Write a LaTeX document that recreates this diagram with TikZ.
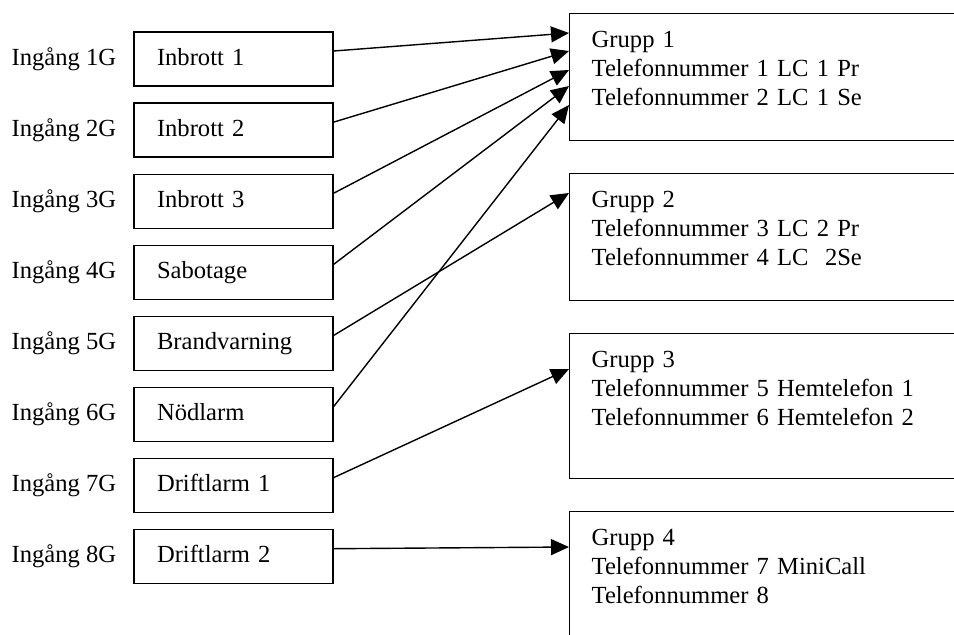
\documentclass[tikz,border=0pt]{standalone}
\usepackage{fontspec}
\setmainfont{Liberation Serif}
\usetikzlibrary{positioning,arrows.meta}

\tikzset{
  inbox/.style={draw, line width=0.7pt, minimum height=27pt, text width=76.5pt,
    inner xsep=11.5pt, align=left, text height=9pt, text depth=3pt,
    font=\fontsize{12.3}{14.5}\selectfont},
  inlab/.style={text height=9pt, text depth=3pt, font=\fontsize{12.3}{14.5}\selectfont},
  grpbox/.style={draw, line width=0.7pt, anchor=north west, text width=178pt,
    inner xsep=11pt, inner ysep=0pt, align=left, text height=17pt, text depth=46.5pt,
    font=\fontsize{12.3}{14.5}\selectfont},
  conn/.style={line width=0.7pt, -{Triangle[length=9pt,width=8pt]}}
}

\begin{document}
\begin{tikzpicture}[x=0.5pt,y=-0.5pt]
\useasboundingbox (0,0) rectangle (954,634);
% inputs
\foreach \i/\lab in {1/Inbrott 1, 2/Inbrott 2, 3/Inbrott 3, 4/Sabotage,
    5/Brandvarning, 6/Nödlarm, 7/Driftlarm 1, 8/Driftlarm 2} {
  \node[inbox] (in\i) at (233.5,{59+71.1*(\i-1)}) {\lab};
  \node[inlab, left=5pt of in\i] (lab\i) {Ingång \i G};
}
% groups
\node[grpbox] (grp1) at (569,13) {Grupp 1\\Telefonnummer 1 LC 1 Pr\\Telefonnummer 2 LC 1 Se};
\node[grpbox] (grp2) at (569,173) {Grupp 2\\Telefonnummer 3 LC 2 Pr\\Telefonnummer 4 LC\ \ 2Se};
\node[grpbox, text depth=55.5pt] (grp3) at (569,333) {Grupp 3\\Telefonnummer 5 Hemtelefon 1\\Telefonnummer 6 Hemtelefon 2};
\node[grpbox, text depth=55.5pt] (grp4) at (569,511) {Grupp 4\\Telefonnummer 7 MiniCall\\Telefonnummer 8};
% connections
\foreach \a/\b/\d in {1/1/10, 2/1/19, 3/1/28.5, 4/1/36.5, 6/1/46,
    5/2/10, 7/3/18, 8/4/18} {
  \draw[conn] ([yshift=4pt]in\a.east) -- ([yshift=-\d pt]grp\b.north west);
}
\end{tikzpicture}
\end{document}
